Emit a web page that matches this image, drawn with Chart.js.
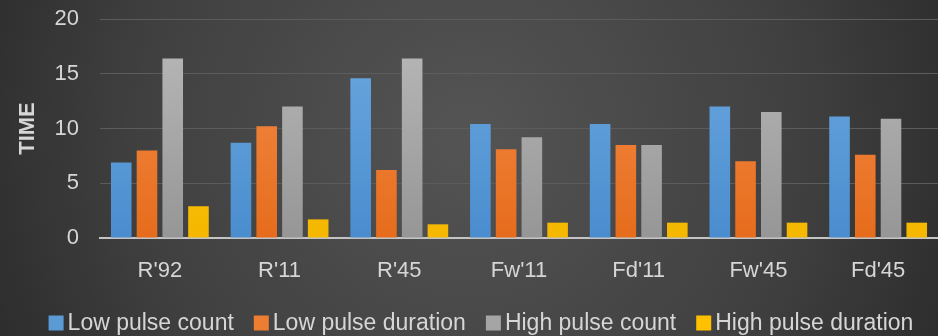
<!DOCTYPE html>
<html>
<head>
<meta charset="utf-8">
<script src="https://cdn.jsdelivr.net/npm/chart.js@4/dist/chart.umd.min.js"></script>
<style>
  html, body { margin: 0; padding: 0; background: #333; }
  #wrap { width: 938px; height: 336px; position: relative; }
</style>
</head>
<body>
<div id="wrap"><canvas id="c" width="938" height="336"></canvas></div>
<script>
const categories = ["R'92", "R'11", "R'45", "Fw'11", "Fd'11", "Fw'45", "Fd'45"];
const lowPulseCount     = [6.9, 8.7, 14.6, 10.4, 10.4, 12.0, 11.1];
const lowPulseDuration  = [8.0, 10.2, 6.2, 8.1, 8.5, 7.0, 7.6];
const highPulseCount    = [16.4, 12.0, 16.4, 9.2, 8.5, 11.5, 10.9];
const highPulseDuration = [2.9, 1.7, 1.25, 1.4, 1.4, 1.4, 1.4];
const yTicks = [0, 5, 10, 15, 20];

const FONT = "'Liberation Sans', Arial, sans-serif";
const TEXT = '#d6d6d6';
const SWATCH = ['#5b9bd5', '#ed7d31', '#a5a5a5', '#ffc000'];

// vertical gradient fill per series, lighter at the top
function barFill(top, bottom) {
  return (ctx) => {
    const area = ctx.chart.chartArea;
    if (!area) return bottom;
    const g = ctx.chart.ctx.createLinearGradient(0, area.top, 0, area.bottom);
    g.addColorStop(0, top);
    g.addColorStop(1, bottom);
    return g;
  };
}

// dark radial backdrop behind the whole chart
const backdrop = {
  id: 'backdrop',
  beforeDraw(chart) {
    const { ctx, width, height } = chart;
    ctx.save();
    const g = ctx.createRadialGradient(width * 0.5, height * 0.4, 20, width * 0.5, height * 0.4, width * 0.62);
    g.addColorStop(0, '#535353');
    g.addColorStop(0.55, '#404040');
    g.addColorStop(1, '#262626');
    ctx.fillStyle = g;
    ctx.fillRect(0, 0, width, height);
    ctx.restore();
  }
};

// compact legend row along the bottom edge
const bottomLegend = {
  id: 'bottomLegend',
  afterDraw(chart) {
    const { ctx, width } = chart;
    const size = 23, box = 15, gap = 4, spacing = 20, cy = 323;
    ctx.save();
    ctx.font = size + 'px ' + FONT;
    ctx.textBaseline = 'middle';
    const items = chart.data.datasets.map((d, i) => ({ text: d.label, color: SWATCH[i], w: ctx.measureText(d.label).width }));
    const total = items.reduce((s, it) => s + box + gap + it.w, 0) + spacing * (items.length - 1);
    let x = width / 2 + 12 - total / 2;
    items.forEach(it => {
      ctx.fillStyle = it.color;
      ctx.fillRect(x, cy - box / 2, box, box);
      x += box + gap;
      ctx.fillStyle = TEXT;
      ctx.fillText(it.text, x, cy + 1);
      x += it.w + spacing;
    });
    ctx.restore();
  }
};

new Chart(document.getElementById('c'), {
  type: 'bar',
  data: {
    labels: categories,
    datasets: [
      { label: 'Low pulse count', data: lowPulseCount, backgroundColor: barFill('#6eaae0', '#4a8dcf') },
      { label: 'Low pulse duration', data: lowPulseDuration, backgroundColor: barFill('#f5904e', '#e66c1c') },
      { label: 'High pulse count', data: highPulseCount, backgroundColor: barFill('#bababa', '#969696') },
      { label: 'High pulse duration', data: highPulseDuration, backgroundColor: barFill('#ffd31c', '#f5b700') }
    ]
  },
  options: {
    responsive: false,
    animation: false,
    layout: { padding: { top: 19, right: 0, left: 0, bottom: 0 } },
    datasets: { bar: { categoryPercentage: 0.86, barPercentage: 0.8 } },
    plugins: {
      legend: { display: false },
      tooltip: { enabled: false }
    },
    scales: {
      x: {
        grid: { display: false, drawTicks: false },
        border: { color: '#c4c4c4', width: 2 },
        ticks: { color: TEXT, font: { family: FONT, size: 22 }, padding: 20 },
        afterFit(s) { s.height = 98; }
      },
      y: {
        min: 0, max: 20,
        afterBuildTicks(s) { s.ticks = yTicks.map(v => ({ value: v })); },
        grid: { color: '#5c5c5c', drawTicks: true, tickLength: 16, tickColor: 'rgba(0,0,0,0)' },
        border: { display: false },
        ticks: { color: TEXT, font: { family: FONT, size: 22 }, padding: 5 },
        title: { display: true, text: 'TIME', color: TEXT, font: { family: FONT, size: 22, weight: 'bold' }, padding: { top: 15, bottom: 0 } },
        afterFit(s) { s.width = 100; }
      }
    }
  },
  plugins: [backdrop, bottomLegend]
});
</script>
</body>
</html>
